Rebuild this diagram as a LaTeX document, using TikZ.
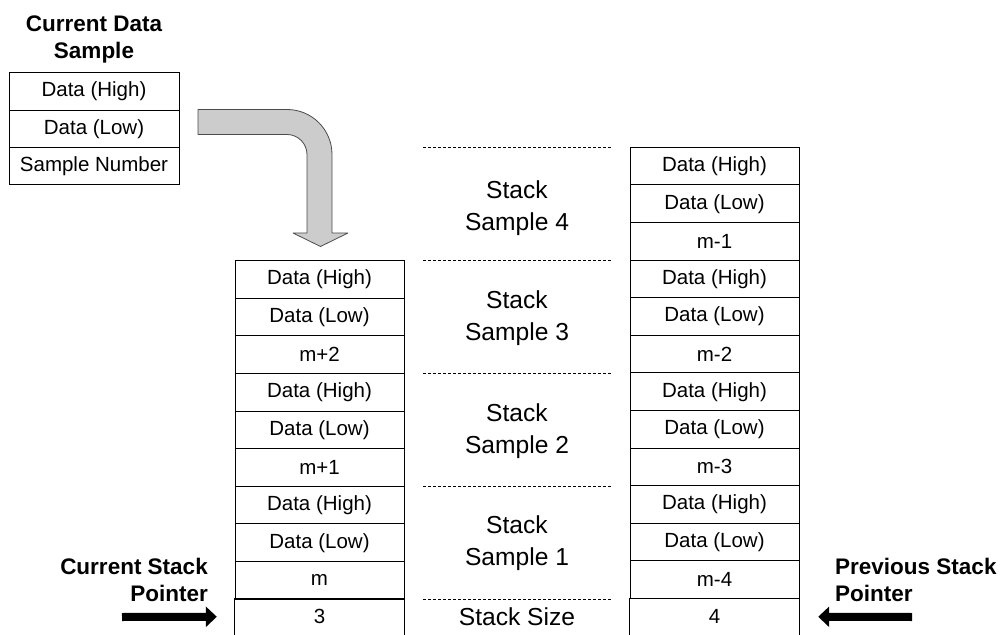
\documentclass[tikz,border=0pt]{standalone}
\usepackage{fontspec}
\setmainfont{Liberation Sans}
\usetikzlibrary{arrows.meta}
\begin{document}
\begin{tikzpicture}[x=1bp,y=-1bp,
  cellfont/.style={font=\fontsize{20.5bp}{24bp}\selectfont},
  cell/.style={cellfont, draw, line width=0.9bp, minimum width=169bp,
    minimum height=37.6bp, inner sep=0pt},
  lastcell/.style={cellfont, minimum width=169bp, minimum height=36.5bp, inner sep=0pt},
  cellline/.style={line width=0.9bp},
  heading/.style={font=\fontsize{22.5bp}{27bp}\selectfont\bfseries, inner sep=0pt},
  stacklbl/.style={font=\fontsize{24.6bp}{32bp}\selectfont, align=center, inner sep=0pt},
  sep/.style={line width=0.8bp, dash pattern=on 3bp off 2bp},
  ptr/.style={line width=8bp, -{Triangle[length=11bp,width=20bp]}},
  blockarrow/.style={fill=black!20, draw=black!70, line width=0.8bp, line join=round}
]
\useasboundingbox (0,0) rectangle (1003,635);

% incoming sample record
\node[heading, align=center] (cdtitle) at (94,39) {Current Data\\Sample};
\node[cell, minimum width=170bp, minimum height=37.4bp] (C0) at (94,91.4) {Data (High)};
\node[cell, minimum width=170bp, minimum height=37.4bp] (C1) at (94,128.8) {Data (Low)};
\node[cell, minimum width=170bp, minimum height=37.4bp] (C2) at (94,166.2) {Sample Number};

% bent block arrow into the stack
\draw[blockarrow] (198,109.5) -- (287,109.5)
  .. controls (311.9,109.5) and (332,129.6) .. (332,154.5)
  -- (332,233) -- (348,233) -- (320.5,246.5) -- (293,233) -- (307,233)
  -- (307,154.5)
  .. controls (307,143.5) and (298,134.5) .. (287,134.5)
  -- (198,134.5) -- cycle;

% current stack
\foreach \t [count=\k from 0] in {Data (High),Data (Low),m+2,Data (High),Data (Low),m+1,Data (High),Data (Low),m}
  \node[cell] (L\k) at (319.5,{279.5+37.6*\k}) {\t};
\node[lastcell] (L9) at (319.5,616.75) {3};
\draw[cellline] (L9.south west) -- (L9.north west) -- (L9.north east) -- (L9.south east);

% previous stack
\foreach \t [count=\k from 0] in {Data (High),Data (Low),m-1,Data (High),Data (Low),m-2,Data (High),Data (Low),m-3,Data (High),Data (Low),m-4}
  \node[cell] (R\k) at (714.5,{166.1+37.6*\k}) {\t};
\node[lastcell] (R12) at (714.5,616.75) {4};
\draw[cellline] (R12.south west) -- (R12.north west) -- (R12.north east) -- (R12.south east);

% stack sample separators and labels
\foreach \y in {147,260.7,373.3,486.3,599}
  \draw[sep] (423,\y) -- (612,\y);
\node[stacklbl] (S4) at (517,208) {Stack\\Sample 4};
\node[stacklbl] (S3) at (517,318.5) {Stack\\Sample 3};
\node[stacklbl] (S2) at (517,431) {Stack\\Sample 2};
\node[stacklbl] (S1) at (517,543.5) {Stack\\Sample 1};
\node[stacklbl] (SS) at (517,617) {Stack Size};

% stack pointers
\node[heading, align=right, anchor=east] (cspt) at (208,580) {Current Stack\\Pointer};
\coordinate (cspTail) at (122,617);
\draw[ptr] (cspTail) -- ([xshift=-18bp]L9.west);

\node[heading, align=left, anchor=west] (pspt) at (835,580) {Previous Stack\\Pointer};
\coordinate (pspTail) at (912,617);
\draw[ptr] (pspTail) -- ([xshift=19bp]R12.east);
\end{tikzpicture}
\end{document}
